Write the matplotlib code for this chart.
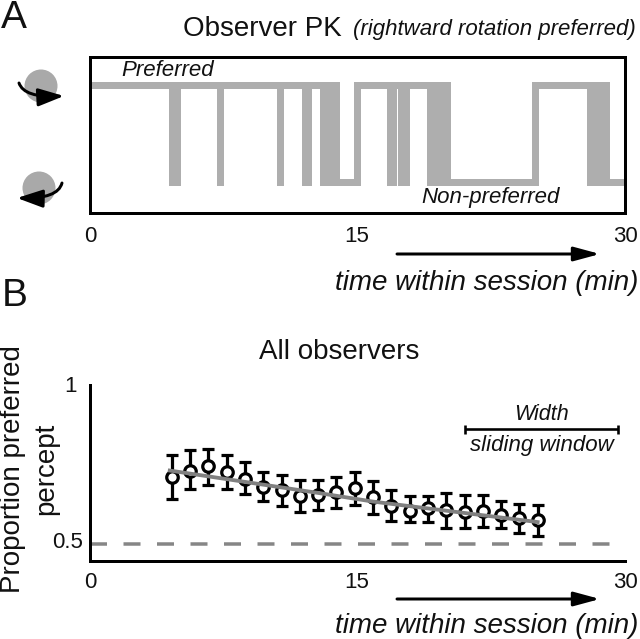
import numpy as np
import matplotlib
matplotlib.use('Agg')
from matplotlib import pyplot as plt
from matplotlib.patches import Circle, FancyArrowPatch
from matplotlib.path import Path

plt.rcParams['font.family'] = ['Liberation Sans', 'DejaVu Sans']

# panel A: percept switches (min) and state after each switch, 1 = preferred
switch_times = [0, 4.60, 4.88, 7.29, 7.30, 10.70, 10.71, 12.11, 12.28, 13.12, 13.32, 13.49,
                13.66, 13.85, 15.0, 16.83, 17.02, 17.47, 17.72, 19.07, 19.26, 19.46, 19.66, 20.02,
                24.99, 28.04, 28.24, 28.43, 28.63, 28.94, 30.0]
switch_state = [1, 0, 1, 0, 1, 0, 1, 0, 1, 0, 1, 0,
                1, 0, 1, 0, 1, 0, 1, 0, 1, 0, 1, 0,
                1, 0, 1, 0, 1, 0, 0]

# panel B: proportion preferred
window_mid = [4.62, 5.65, 6.67, 7.7, 8.72, 9.75, 10.78, 11.8, 12.83, 13.85, 14.88,
              15.9, 16.93, 17.95, 18.98, 20.0, 21.03, 22.06, 23.08, 24.11, 25.13]
prop_mean = [.707, .728, .741, .723, .703, .676, .666, .647, .653, .660, .672,
             .644, .617, .603, .610, .606, .598, .601, .588, .579, .572]
prop_upper = [.777, .791, .796, .778, .754, .722, .713, .700, .700, .709, .722,
              .695, .666, .650, .650, .659, .653, .653, .634, .622, .619]
prop_lower = [.638, .669, .684, .669, .656, .634, .616, .597, .606, .612, .619,
              .591, .569, .566, .566, .550, .547, .553, .548, .534, .523]
fit_x = [4.5, 12.83, 15.9, 25.13]
fit_y = [.728, .658, .631, .567]

W, H = 640, 639
px = 72 / 100


def axes_at(left, top, right, bottom):
    return fig.add_axes([left / W, 1 - bottom / H, (right - left) / W, (bottom - top) / H])


fig = plt.figure(figsize=(6.4, 6.39), dpi=100)

# panel A
ax1 = axes_at(89.5, 56.7, 624.5, 212.7)
ax1.step(switch_times, switch_state, where='post', color='#aeaeae', lw=7 * px,
         solid_joinstyle='miter', solid_capstyle='butt')
ax1.vlines(switch_times[1:-1], 0, 1, color='#aeaeae', lw=7 * px, capstyle='projecting')
ax1.set_xlim(0, 30)
ax1.set_ylim(-0.323, 1.293)
ax1.set_xticks([])
ax1.set_yticks([])
for s in ax1.spines.values():
    s.set_linewidth(3 * px)

# panel B
ax2 = axes_at(89.5, 385, 624.5, 560.7)
ax2.axhline(0.5, xmin=0, xmax=0.973, color='#868686', lw=3.5 * px, dashes=(17 / 3.5, 16.5 / 3.5),
            dash_capstyle='butt')
yerr = [np.array(prop_mean) - np.array(prop_lower), np.array(prop_upper) - np.array(prop_mean)]
ax2.errorbar(window_mid, prop_mean, yerr=yerr, fmt='o', ms=11.5 * px, mfc='white', mec='black',
             mew=3.2 * px, ecolor='black', elinewidth=3.2 * px, capsize=5.7 * px,
             capthick=3.2 * px)
ax2.plot(fit_x, fit_y, color='#808080', lw=3.8 * px, zorder=5)
ax2.set_xlim(0, 30)
ax2.set_ylim(0.4463, 0.9953)
ax2.set_xticks([])
ax2.set_yticks([])
ax2.spines['top'].set_visible(False)
ax2.spines['right'].set_visible(False)
ax2.spines['left'].set_linewidth(3 * px)
ax2.spines['bottom'].set_linewidth(3 * px)

# overlay in pixel coordinates for labels and icons
ov = fig.add_axes([0, 0, 1, 1], zorder=10)
ov.set_xlim(0, W)
ov.set_ylim(H, 0)
ov.axis('off')


def label(x, y, s, size, style='normal', ha='center', rot=0):
    ov.text(x, y, s, fontsize=size, style=style, ha=ha, va='center', rotation=rot, color='#111111')


label(1, 18, 'A', 28, ha='left')
label(2, 296, 'B', 28, ha='left')
label(183, 29, 'Observer PK', 20, ha='left')
label(353, 30, '(rightward rotation preferred)', 16, style='italic', ha='left')
label(168, 70, 'Preferred', 16, style='italic')
label(490, 198, 'Non-preferred', 16, style='italic')
label(90, 237, '0', 16)
label(357, 237, '15', 16)
label(625, 237, '30', 16)
label(90, 583, '0', 16)
label(357, 583, '15', 16)
label(625, 583, '30', 16)
label(487, 283, 'time within session (min)', 20, style='italic')
label(487, 626, 'time within session (min)', 20, style='italic')
label(339, 352, 'All observers', 20)
label(70, 386, '1', 16)
label(68, 543, '0.5', 16)
label(13, 469, 'Proportion preferred', 20, rot=90)
label(46, 469, 'percept', 20, rot=90)
label(542, 414, 'Width', 15.5, style='italic')
label(542, 446, 'sliding window', 16, style='italic')

# time arrows
for y in [254, 599]:
    ov.add_patch(FancyArrowPatch((397, y), (600, y), arrowstyle='-|>,head_length=1.0,head_width=0.27',
                                 mutation_scale=15.8, lw=3 * px, color='black', shrinkA=0, shrinkB=0))

# width bar
ov.plot([465, 618], [429, 429], color='black', lw=2.6 * px, solid_capstyle='butt')
for x in [465, 618]:
    ov.plot([x, x], [425, 434], color='black', lw=2.6 * px, solid_capstyle='butt')

# rotation icons
ov.add_patch(Circle((41, 86), 16.5, color='#a9a9a9', lw=0))
ov.add_patch(Circle((39, 188), 16.5, color='#a9a9a9', lw=0))
curve = [Path.MOVETO, Path.CURVE3, Path.CURVE3]
ov.add_patch(FancyArrowPatch(path=Path([(19, 83), (24, 98), (64, 96)], curve),
                             arrowstyle='-|>,head_length=1.3,head_width=0.45', mutation_scale=12,
                             lw=3 * px, color='black'))
ov.add_patch(FancyArrowPatch(path=Path([(62, 183), (58, 199), (17, 198)], curve),
                             arrowstyle='-|>,head_length=1.3,head_width=0.45', mutation_scale=12,
                             lw=3 * px, color='black'))

fig.savefig('out.png', dpi=100)
